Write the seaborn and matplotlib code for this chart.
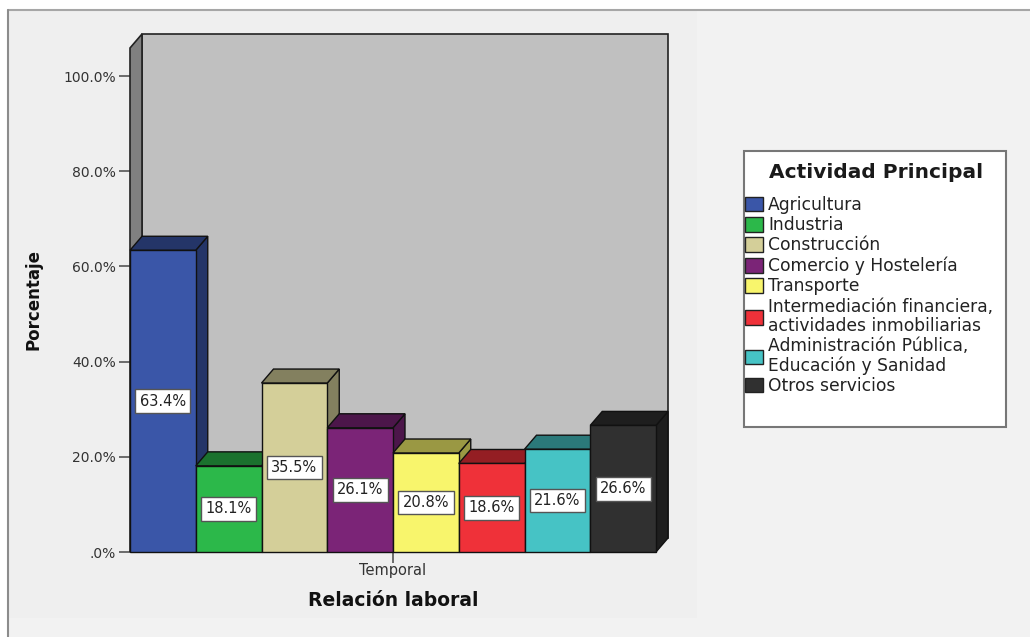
import matplotlib
matplotlib.use("Agg")
import matplotlib.pyplot as plt
from matplotlib.patches import Polygon, Rectangle, Patch
from matplotlib.lines import Line2D
from matplotlib.ticker import FuncFormatter
import matplotlib.colors as mcolors
import numpy as np
import pandas as pd
import seaborn as sns

# ---- data ----
relation = ["Temporal"]
activities = [
    "Agricultura",
    "Industria",
    "Construcción",
    "Comercio y Hostelería",
    "Transporte",
    "Intermediación financiera,\nactividades inmobiliarias",
    "Administración Pública,\nEducación y Sanidad",
    "Otros servicios",
]
percentages = [63.4, 18.1, 35.5, 26.1, 20.8, 18.6, 21.6, 26.6]
colors = ["#3a56a8", "#2cb84a", "#d4cf99", "#7b2477",
          "#f8f56c", "#ef3139", "#46c3c5", "#303030"]
yticks = [0, 20, 40, 60, 80, 100]

df = pd.DataFrame({
    "Relación laboral": relation * len(activities),
    "Actividad Principal": activities,
    "Porcentaje": percentages,
})

sns.set_theme(style="white")
plt.rcParams["font.family"] = ["DejaVu Sans"]

W, H, DPI = 1030, 637, 100
fig = plt.figure(figsize=(W / DPI, H / DPI), dpi=DPI, facecolor="white")

# panel backgrounds and frame lines
fig.patches.append(Rectangle((8 / W, 0), 1 - 8 / W, 1 - 10 / H, transform=fig.transFigure,
                             facecolor="#f2f2f2", edgecolor="none", zorder=-3))
fig.patches.append(Rectangle((8 / W, 1 - 618 / H), (697 - 8) / W, (618 - 10) / H,
                             transform=fig.transFigure, facecolor="#efefef",
                             edgecolor="none", zorder=-2))
fig.lines.append(Line2D([8 / W, 1], [1 - 10 / H, 1 - 10 / H], transform=fig.transFigure,
                        color="#a6a6a6", lw=1.5))
fig.lines.append(Line2D([8 / W, 8 / W], [0, 1 - 10 / H], transform=fig.transFigure,
                        color="#8c8c8c", lw=1.5))

# front plane of the plot
ax_l, ax_r, ax_t, ax_b = 130, 656, 48, 552
ax = fig.add_axes([ax_l / W, 1 - ax_b / H, (ax_r - ax_l) / W, (ax_b - ax_t) / H])
ax.set_facecolor("none")

sns.barplot(data=df, x="Relación laboral", y="Porcentaje", hue="Actividad Principal",
            hue_order=activities, palette=colors, saturation=1, width=0.8, gap=0,
            edgecolor="#111111", linewidth=1, legend=False, ax=ax)

xmin, xmax = -0.4, 0.4
ytop = 105.9
ax.set_xlim(xmin, xmax)
ax.set_ylim(0, ytop)
for s in ax.spines.values():
    s.set_visible(False)

# depth offset of the 3D effect, in pixels -> data units
dpx, dpy = 12, 14
ddx = dpx * (xmax - xmin) / (ax_r - ax_l)
ddy = dpy * ytop / (ax_b - ax_t)

# walls
back = Rectangle((xmin + ddx, ddy), xmax - xmin, ytop, facecolor="#c0c0c0",
                 edgecolor="#222222", lw=1.2, zorder=0.5, clip_on=False)
ax.add_patch(back)
left = Polygon([(xmin, 0), (xmin + ddx, ddy), (xmin + ddx, ytop + ddy), (xmin, ytop)],
               closed=True, facecolor="#808080", edgecolor="#222222", lw=1.2,
               zorder=0.6, clip_on=False)
ax.add_patch(left)


def shade(c, f=0.62):
    r, g, b = mcolors.to_rgb(c)
    return (r * f, g * f, b * f)


bars = sorted([p for p in ax.patches if isinstance(p, Rectangle) and p is not back],
              key=lambda p: p.get_x())
for i, p in enumerate(bars):
    l, w, h = p.get_x(), p.get_width(), p.get_height()
    fc = p.get_facecolor()
    dark = shade(fc)
    z = 3 + i * 0.1
    side = Polygon([(l + w, 0), (l + w + ddx, ddy), (l + w + ddx, h + ddy), (l + w, h)],
                   closed=True, facecolor=dark, edgecolor="#111111", lw=1,
                   zorder=z, clip_on=False)
    top = Polygon([(l, h), (l + ddx, h + ddy), (l + w + ddx, h + ddy), (l + w, h)],
                  closed=True, facecolor=dark, edgecolor="#111111", lw=1,
                  zorder=z, clip_on=False)
    ax.add_patch(side)
    ax.add_patch(top)
    p.set_zorder(z + 0.05)
    p.set_clip_on(False)
    ax.text(l + w / 2, h / 2, f"{h:.1f}%", ha="center", va="center", fontsize=10.5,
            color="#222222", zorder=z + 0.08,
            bbox=dict(boxstyle="square,pad=0.3", facecolor="white",
                      edgecolor="#555555", lw=1))

# axes, ticks, labels
ax.set_yticks(yticks)
ax.yaxis.set_major_formatter(FuncFormatter(
    lambda v, _: (f"{v:.1f}%").lstrip("0") if v < 1 else f"{v:.1f}%"))
ax.tick_params(axis="y", length=8, width=1.2, color="#555555", labelsize=10,
               labelcolor="#333333", pad=2, left=True)
ax.set_xticks([0])
ax.set_xticklabels(relation)
ax.tick_params(axis="x", length=8, width=1.2, color="#555555", labelsize=10.5,
               labelcolor="#333333", pad=0, bottom=True)

ax.set_xlabel("Relación laboral", fontsize=13.5, fontweight="bold", color="#111111")
ax.xaxis.set_label_coords(0.5, -0.077)
ax.set_ylabel("Porcentaje", fontsize=12, fontweight="bold", color="#111111")
ax.yaxis.set_label_coords(-0.167, 0.5)

# legend panel
fig.patches.append(Rectangle((744 / W, 1 - 427 / H), (1006 - 744) / W, (427 - 151) / H,
                             transform=fig.transFigure, facecolor="white",
                             edgecolor="#777777", lw=1.5, zorder=1))
fig.text(876 / W, 1 - 172 / H, "Actividad Principal", ha="center", va="center",
         fontsize=14.5, fontweight="bold", color="#1a1a1a", zorder=3)
handles = [Patch(facecolor=c, edgecolor="#222222", lw=1) for c in colors]
leg = fig.legend(handles, activities, loc="upper left",
                 bbox_to_anchor=(745 / W, 1 - 196 / H), frameon=False,
                 fontsize=12.3, handlelength=1.05, handleheight=0.94,
                 handletextpad=0.3, labelspacing=0.13, borderpad=0,
                 borderaxespad=0)
leg.set_zorder(2)
for t in leg.get_texts():
    t.set_color("#222222")
    t.set_linespacing(1.08)

fig.savefig("out.png", dpi=DPI, facecolor=fig.get_facecolor())
